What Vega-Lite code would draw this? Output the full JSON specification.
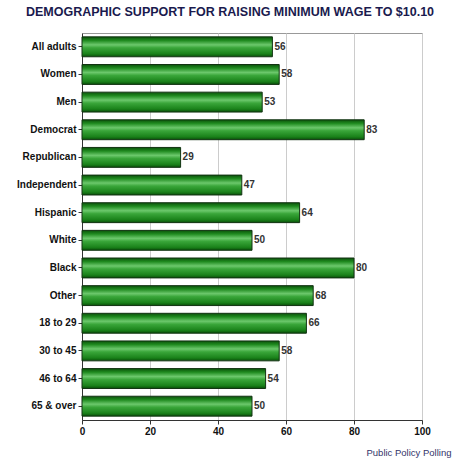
{
  "$schema": "https://vega.github.io/schema/vega-lite/v6.json",
  "autosize": "none",
  "width": 340,
  "height": 387,
  "padding": {"left": 82, "top": 33, "right": 38, "bottom": 40},
  "background": "white",
  "title": {
    "text": "DEMOGRAPHIC SUPPORT FOR RAISING MINIMUM WAGE TO $10.10",
    "font": "Liberation Sans",
    "fontSize": 12.5,
    "fontWeight": "bold",
    "color": "#1a1a4e",
    "anchor": "middle",
    "dx": -22,
    "baseline": "alphabetic",
    "offset": 5
  },
  "data": {
    "values": [
      {"group": "All adults", "pct": 56},
      {"group": "Women", "pct": 58},
      {"group": "Men", "pct": 53},
      {"group": "Democrat", "pct": 83},
      {"group": "Republican", "pct": 29},
      {"group": "Independent", "pct": 47},
      {"group": "Hispanic", "pct": 64},
      {"group": "White", "pct": 50},
      {"group": "Black", "pct": 80},
      {"group": "Other", "pct": 68},
      {"group": "18 to 29", "pct": 66},
      {"group": "30 to 45", "pct": 58},
      {"group": "46 to 64", "pct": 54},
      {"group": "65 & over", "pct": 50}
    ]
  },
  "encoding": {
    "y": {
      "field": "group",
      "type": "nominal",
      "sort": null,
      "scale": {"paddingInner": 0.28, "paddingOuter": 0.14},
      "axis": {
        "title": null,
        "labelFont": "Liberation Sans",
        "labelFontSize": 10,
        "labelFontWeight": "bold",
        "labelColor": "#111111",
        "labelPadding": 2,
        "tickSize": 4,
        "tickColor": "#333333",
        "domainColor": "#333333",
        "grid": false
      }
    },
    "x": {
      "field": "pct",
      "type": "quantitative",
      "scale": {"domain": [0, 100], "nice": false},
      "axis": {
        "values": [0, 20, 40, 60, 80, 100],
        "title": "Public Policy Polling",
        "titleFont": "Liberation Sans",
        "titleFontSize": 9.5,
        "titleFontWeight": "normal",
        "titleColor": "#33336a",
        "titleAnchor": "end",
        "titleAlign": "right",
        "titleX": 369,
        "titleY": 35,
        "titleBaseline": "alphabetic",
        "labelFont": "Liberation Sans",
        "labelFontSize": 10,
        "labelFontWeight": "bold",
        "labelColor": "#111111",
        "labelPadding": 2,
        "tickSize": 4,
        "tickColor": "#333333",
        "domainColor": "#333333",
        "grid": true,
        "gridColor": "#cccccc",
        "labelFlush": false
      }
    }
  },
  "layer": [
    {
      "mark": {
        "type": "bar",
        "stroke": "#123312",
        "strokeWidth": 1,
        "fill": {
          "gradient": "linear",
          "x1": 0, "y1": 0, "x2": 0, "y2": 1,
          "stops": [
            {"offset": 0, "color": "#0b520b"},
            {"offset": 0.18, "color": "#1f8a1f"},
            {"offset": 0.4, "color": "#6cc86c"},
            {"offset": 0.55, "color": "#3aa63a"},
            {"offset": 0.85, "color": "#1a821a"},
            {"offset": 1, "color": "#0a500a"}
          ]
        }
      }
    },
    {
      "mark": {
        "type": "text",
        "align": "left",
        "baseline": "middle",
        "dx": 2,
        "font": "Liberation Sans",
        "fontSize": 10,
        "fontWeight": "bold",
        "color": "#333333"
      },
      "encoding": {"text": {"field": "pct", "type": "quantitative"}}
    }
  ],
  "config": {
    "view": {"stroke": "#999999", "strokeWidth": 1}
  }
}
